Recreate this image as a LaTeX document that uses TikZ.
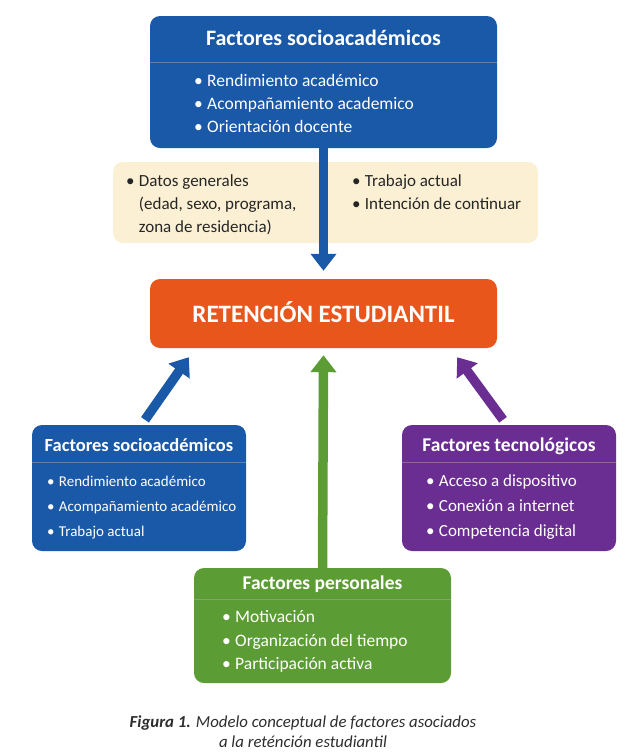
\documentclass[tikz,border=0pt]{standalone}
\usepackage{fontspec}
\setmainfont{Carlito}
\usetikzlibrary{arrows.meta,positioning,calc}

\definecolor{socblue}{RGB}{26,88,168}
\definecolor{retorange}{RGB}{233,86,27}
\definecolor{perGreen}{RGB}{92,156,52}
\definecolor{tecPurple}{RGB}{106,45,146}
\definecolor{datBeige}{RGB}{251,240,211}
\definecolor{capGray}{RGB}{45,45,45}

\newcommand{\blist}[1]{\begin{tabular}[t]{@{}l@{\hspace{4.5pt}}l@{}}#1\end{tabular}}

\begin{document}
\begin{tikzpicture}[
    x=1pt, y=-1pt,
    box/.style={rounded corners=10pt, inner sep=0pt},
    ttl/.style={anchor=base, text=white, font=\fontsize{19.5}{22}\selectfont\bfseries},
    items/.style={anchor=base west, inner sep=0pt, text=white},
    sep/.style={white!70!black, opacity=0.45, line width=0.8pt},
    fat/.style={line width=9.5pt, -{Triangle[length=17pt,width=25pt]}}
  ]
  \useasboundingbox (0,0) rectangle (635,756);

  % top box
  \node[box, fill=socblue, minimum width=347pt, minimum height=132pt] (socTop) at (323.5,82) {};
  \node[ttl, font=\fontsize{22}{24}\selectfont\bfseries] (socTopT) at ($(socTop.north)+(0,30)$) {Factores socioacadémicos};
  \draw[sep] ($(socTop.north west)+(0,47)$) -- ($(socTop.north east)+(0,47)$);
  \node[items, font=\fontsize{17.5}{23}\selectfont] (socTopL) at ($(socTop.north west)+(44,71)$)
    {\blist{\textbullet & Rendimiento académico\\ \textbullet & Acompañamiento academico\\ \textbullet & Orientación docente}};

  % general data
  \node[box, fill=datBeige, minimum width=425pt, minimum height=81pt] (dat) at (325.5,202.5) {};
  \node[items, text=black!85, font=\fontsize{17}{23}\selectfont] (datL) at ($(dat.north west)+(13,25)$)
    {\blist{\textbullet & Datos generales\\ & (edad, sexo, programa,\\ & zona de residencia)}};
  \node[items, text=black!85, font=\fontsize{17}{23}\selectfont] (datR) at ($(dat.north west)+(239,25)$)
    {\blist{\textbullet & Trabajo actual\\ \textbullet & Intención de continuar}};

  % center
  \node[box, fill=retorange, minimum width=347pt, minimum height=69pt, text=white, text height=18pt, text depth=0pt,
    font=\fontsize{25}{28}\selectfont\bfseries] (ret) at (323.5,313.5) {RETENCIÓN ESTUDIANTIL};

  % lower left
  \node[box, fill=socblue, minimum width=214pt, minimum height=126pt] (socL) at (139,488) {};
  \node[ttl, font=\fontsize{18.5}{22}\selectfont\bfseries] (socLT) at ($(socL.north)+(0,27)$) {Factores socioacdémicos};
  \draw[sep] ($(socL.north west)+(0,38)$) -- ($(socL.north east)+(0,38)$);
  \node[items, font=\fontsize{15}{25}\selectfont] (socLL) at ($(socL.north west)+(15,62)$)
    {\blist{\textbullet & Rendimiento académico\\ \textbullet & Acompañamiento académico\\ \textbullet & Trabajo actual}};

  % lower right
  \node[box, fill=tecPurple, minimum width=214pt, minimum height=126pt] (tec) at (509,488) {};
  \node[ttl] (tecT) at ($(tec.north)+(0,27)$) {Factores tecnológicos};
  \draw[sep] ($(tec.north west)+(0,38)$) -- ($(tec.north east)+(0,38)$);
  \node[items, font=\fontsize{17}{25}\selectfont] (tecL) at ($(tec.north west)+(24,62)$)
    {\blist{\textbullet & Acceso a dispositivo\\ \textbullet & Conexión a internet\\ \textbullet & Competencia digital}};

  % bottom
  \node[box, fill=perGreen, minimum width=257pt, minimum height=115pt] (per) at (322.5,625.5) {};
  \node[ttl] (perT) at ($(per.north)+(0,22)$) {Factores personales};
  \draw[sep] ($(per.north west)+(0,32)$) -- ($(per.north east)+(0,32)$);
  \node[items, font=\fontsize{17.5}{23.5}\selectfont] (perL) at ($(per.north west)+(28,55)$)
    {\blist{\textbullet & Motivación\\ \textbullet & Organización del tiempo\\ \textbullet & Participación activa}};

  % arrows
  \draw[fat, socblue] (socTop.south) -- ($(ret.north)+(0,-8)$);
  \draw[fat, socblue] ($(socL.north)+(6,-5)$) -- ($(ret.south west)+(39,9)$);
  \draw[fat, perGreen] (per.north) -- ($(ret.south)+(0,7)$);
  \draw[fat, tecPurple] ($(tec.north)+(-6,-5)$) -- ($(ret.south east)+(-40,9)$);

  % caption
  \node[anchor=base, inner sep=0pt, text=capGray, font=\fontsize{16.8}{20.5}\selectfont\itshape] (cap) at (303,727)
    {\begin{tabular}[t]{@{}c@{}}\textbf{Figura 1.} Modelo conceptual de factores asociados\\ a la reténción estudiantil\end{tabular}};
\end{tikzpicture}
\end{document}
